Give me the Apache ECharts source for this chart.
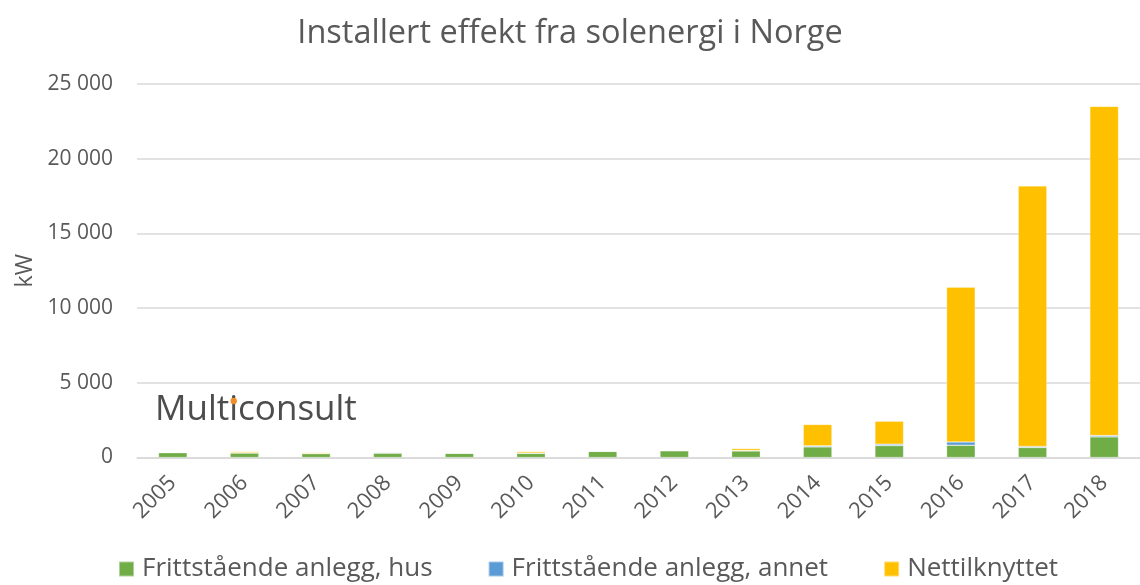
<!DOCTYPE html>
<html><head><meta charset="utf-8">
<script src="https://cdn.jsdelivr.net/npm/echarts@6/dist/echarts.min.js"></script>
<style>html,body{margin:0;padding:0;background:#fff}#c{width:1140px;height:585px}</style>
</head><body><div id="c"></div>
<script>
const years = ['2005','2006','2007','2008','2009','2010','2011','2012','2013','2014','2015','2016','2017','2018'];
const hus    = [320, 300, 260, 290, 280, 280, 410, 450, 440, 710, 800, 820, 670, 1380];
const annet  = [40, 20, 10, 50, 10, 20, 10, 20, 30, 70, 90, 220, 70, 90];
const nett   = [0, 80, 60, 10, 0, 100, 0, 0, 130, 1430, 1540, 10360, 17440, 22030];
const yTicks = [0, 5000, 10000, 15000, 20000, 25000];

const F = '"Open Sans", sans-serif';
const txt = '#595959';
const chart = echarts.init(document.getElementById('c'), null, {renderer:'canvas'});
const bar = (name, data, color) => ({
  name, type:'bar', stack:'t', data, barWidth:'40%',
  itemStyle:{color, borderColor:'rgba(255,255,255,0.45)', borderWidth:0.6},
  emphasis:{disabled:true}
});
// logo dot position over the "i"
const logoFont = '35px "Open Sans"';
const cv = document.createElement('canvas').getContext('2d');
cv.font = logoFont;
const wMult = cv.measureText('Mult').width, wI = cv.measureText('i').width;
const logoX = 155, logoY = 393;

chart.setOption({
  animation:false,
  title:{text:'Installert effekt fra solenergi i Norge', left:'center', top:12,
    textStyle:{fontFamily:F, fontSize:32.5, fontWeight:'normal', color:txt}},
  grid:{left:137, width:1006, top:84, bottom:127.5, containLabel:false},
  legend:{bottom:-2, left:113, itemWidth:15, itemHeight:15, itemGap:55, icon:'rect',
    textStyle:{fontFamily:F, fontSize:26, color:txt, padding:[0,0,0,3]},
    data:['Frittstående anlegg, hus','Frittstående anlegg, annet','Nettilknyttet']},
  xAxis:{type:'category', data:years,
    axisLine:{lineStyle:{color:'#d9d9d9', width:1.5}}, axisTick:{show:false},
    axisLabel:{rotate:45, fontFamily:F, fontSize:22, color:txt, margin:22, interval:0}},
  yAxis:{type:'value', min:yTicks[0], max:yTicks[yTicks.length-1], interval:5000,
    name:'kW', nameLocation:'middle', nameGap:100, nameRotate:90,
    nameTextStyle:{fontFamily:F, fontSize:23, color:txt},
    axisLine:{show:false}, axisTick:{show:false},
    splitLine:{lineStyle:{color:'#d9d9d9', width:1.5}},
    axisLabel:{fontFamily:F, fontSize:21, color:txt, margin:24,
      formatter:v=>v===0?'0':String(v).replace(/\B(?=(\d{3})+(?!\d))/g,' ')}},
  series:[
    bar('Frittstående anlegg, hus', hus, '#70AD47'),
    bar('Frittstående anlegg, annet', annet, '#5B9BD5'),
    bar('Nettilknyttet', nett, '#FFC000')
  ],
  graphic:[
    {type:'text', left:logoX, top:logoY, z:10, style:{text:'Multiconsult', font:logoFont, fill:'#4d4d4d'}},
    {type:'circle', z:11, shape:{cx:logoX + wMult + wI/2, cy:logoY + 8, r:3.2}, style:{fill:'#F28C28'}}
  ]
});
</script></body></html>
